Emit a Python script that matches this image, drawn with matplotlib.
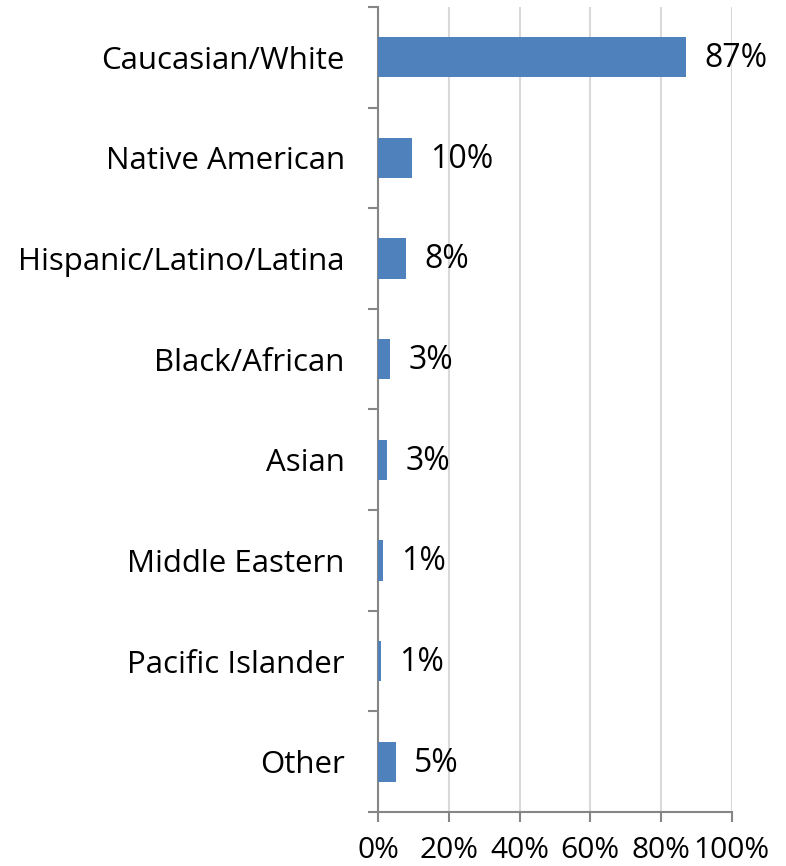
import numpy as np
import matplotlib.pyplot as plt
from matplotlib.ticker import FuncFormatter, MultipleLocator

plt.rcParams['font.family'] = ['Open Sans', 'DejaVu Sans']

categories = ['Caucasian/White', 'Native American', 'Hispanic/Latino/Latina',
              'Black/African', 'Asian', 'Middle Eastern', 'Pacific Islander', 'Other']
values = [87.2, 9.7, 7.9, 3.4, 2.6, 1.3, 0.8, 5.0]
labels = ['87%', '10%', '8%', '3%', '3%', '1%', '1%', '5%']

fig = plt.figure(figsize=(7.86, 8.66), dpi=100)
ax = fig.add_axes([0.481, 0.0624, 0.45, 0.9296])

y = np.arange(len(categories))
ax.barh(y, values, height=0.4, color='#4f81bd', zorder=3)

for yi, v, lab in zip(y, values, labels):
    ax.annotate(lab, xy=(v, yi), xytext=(13, -1), textcoords='offset points',
                ha='left', va='center', fontsize=23, color='black')

ax.set_xlim(0, 100)
ax.set_ylim(len(categories) - 0.5, -0.5)
ax.xaxis.set_major_locator(MultipleLocator(20))
ax.xaxis.set_major_formatter(FuncFormatter(lambda x, p: '%d%%' % x))
ax.grid(axis='x', color='#d9d9d9', linewidth=1.5, zorder=0)

ax.set_yticks(y)
ax.set_yticklabels(categories)
ax.set_yticks(np.arange(len(categories) + 1) - 0.5, minor=True)
ax.tick_params(axis='y', which='major', length=0, pad=24, labelsize=22.5)
ax.tick_params(axis='y', which='minor', length=7, width=1.5, color='#868686')
ax.tick_params(axis='x', which='major', length=7, width=1.5, color='#868686',
               pad=10, labelsize=21.5)

for s in ['top', 'right']:
    ax.spines[s].set_visible(False)
for s in ['left', 'bottom']:
    ax.spines[s].set_color('#868686')
    ax.spines[s].set_linewidth(1.5)

fig.savefig('out.png', dpi=100)
